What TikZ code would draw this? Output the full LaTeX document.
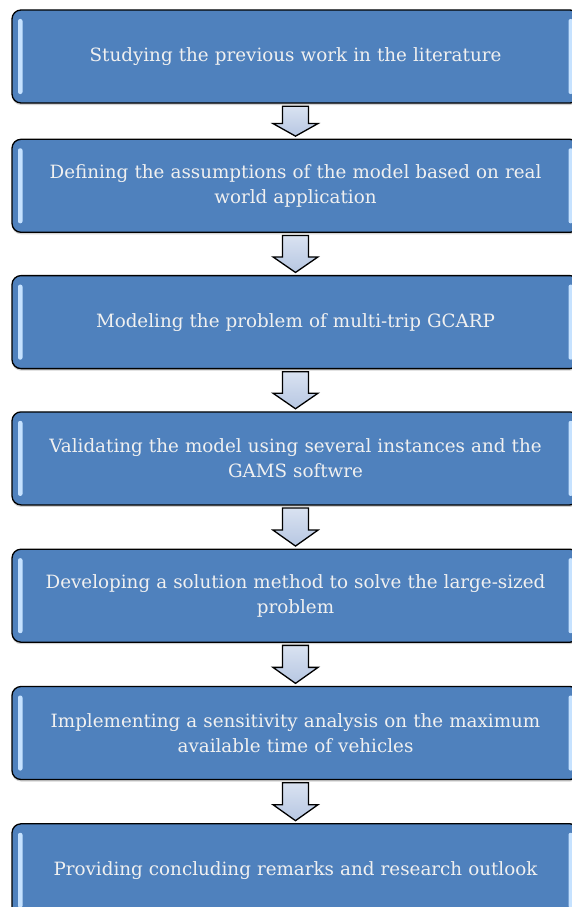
\documentclass[tikz,border=0pt]{standalone}
\usepackage{fontspec}
\setmainfont{DejaVu Serif}
\usepackage{tikz}
\usetikzlibrary{positioning,calc,shadows}

\definecolor{stepblue}{HTML}{4F81BD}
\definecolor{glint}{HTML}{C6E2FF}
\definecolor{arrowtop}{HTML}{D9E2F1}
\definecolor{arrowbot}{HTML}{B7C7E2}

\tikzset{
  pics/downarr/.style={code={
    \draw[line width=1.3pt, top color=arrowtop, bottom color=arrowbot, line join=miter]
      (-13,{#1/2}) -- (13,{#1/2}) -- (13,{-0.08*#1}) -- (22.5,{-0.08*#1})
      -- (0,{-#1/2}) -- (-22.5,{-0.08*#1}) -- (-13,{-0.08*#1}) -- cycle;
  }}
}

\begin{document}
\begin{tikzpicture}[x=1pt, y=1pt, every node/.style={font=\fontsize{18.3}{25}\selectfont},
  stage/.style={draw=black, line width=1.3pt, fill=stepblue, rounded corners=9pt,
    minimum width=567pt, minimum height=93pt, text width=540pt, align=center,
    text=white!94!black, inner sep=0pt,
    drop shadow={opacity=0.35, shadow xshift=0pt, shadow yshift=-2pt},
    path picture={
      \fill[glint, rounded corners=2pt] ([xshift=6pt,yshift=-9pt]path picture bounding box.north west)
        rectangle ([xshift=10.5pt,yshift=9pt]path picture bounding box.south west);
      \fill[glint, rounded corners=2pt] ([xshift=-10.5pt,yshift=-9pt]path picture bounding box.north east)
        rectangle ([xshift=-6pt,yshift=9pt]path picture bounding box.south east);
    }}]
\useasboundingbox (0,0) rectangle (571,-907);

\node[stage] (study) at (295.5,-56.5) {Studying the previous work in the literature};
\node[stage, below=35pt of study] (assume) {Defining the assumptions of the model based on real\\ world application};
\node[stage, below=42pt of assume] (model) {Modeling the problem of multi-trip GCARP};
\node[stage, below=42pt of model] (valid) {Validating the model using several instances and the\\ GAMS softwre};
\node[stage, below=43pt of valid] (method) {Developing a solution method to solve the large-sized\\ problem};
\node[stage, below=43pt of method] (sens) {Implementing a sensitivity analysis on the maximum\\ available time of vehicles};
\node[stage, below=43pt of sens] (outlook) {Providing concluding remarks and research outlook};

% block arrows between the stages
\coordinate (a1) at ($(study.south)!0.5!(assume.north)$);
\coordinate (a2) at ($(assume.south)!0.5!(model.north)$);
\coordinate (a3) at ($(model.south)!0.5!(valid.north)$);
\coordinate (a4) at ($(valid.south)!0.5!(method.north)$);
\coordinate (a5) at ($(method.south)!0.5!(sens.north)$);
\coordinate (a6) at ($(sens.south)!0.5!(outlook.north)$);
\pic at (a1) {downarr=30};
\pic at (a2) {downarr=37};
\pic at (a3) {downarr=37};
\pic at (a4) {downarr=38};
\pic at (a5) {downarr=38};
\pic at (a6) {downarr=38};
\end{tikzpicture}
\end{document}
